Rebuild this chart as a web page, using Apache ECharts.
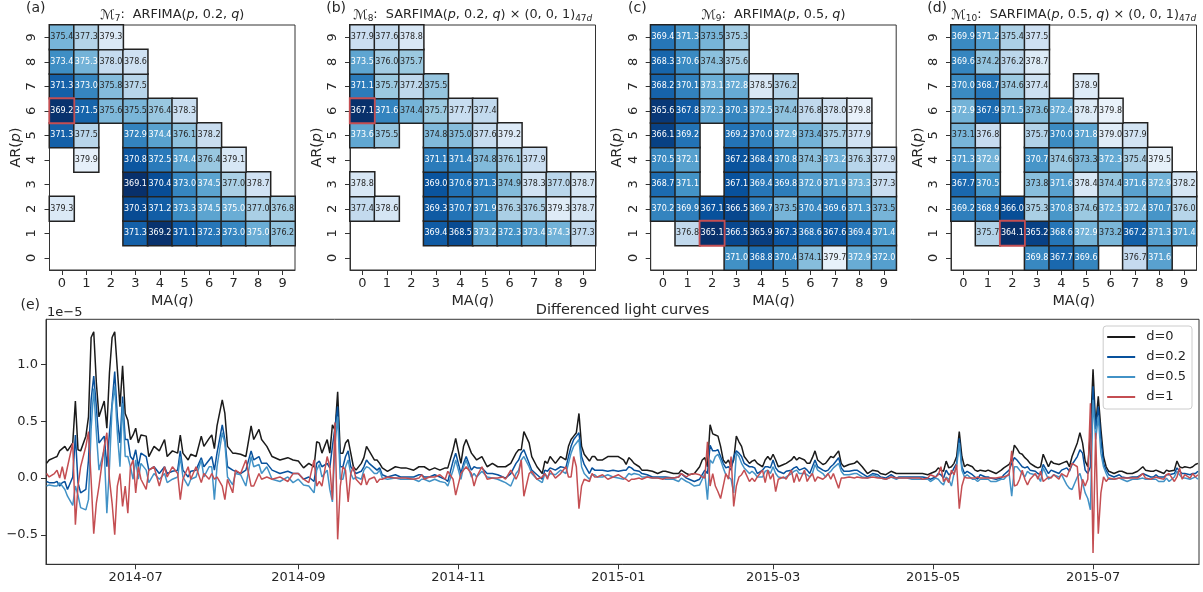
<!DOCTYPE html>
<html><head><meta charset="utf-8">
<script src="https://cdn.jsdelivr.net/npm/echarts@6.0.0/dist/echarts.min.js"></script>
<style>html,body{margin:0;padding:0;background:#fff}#c{width:1203px;height:592px}</style>
</head><body><div id="c"></div>
<script>
const FF = 'DejaVu Sans';
// ---------- heatmap data: rows = AR(p) 0..9, columns = MA(q) 0..9 ----------
const qLabels = ['0','1','2','3','4','5','6','7','8','9'];
const pLabels = ['0','1','2','3','4','5','6','7','8','9'];
const _ = null;
const m7 = [
 [_,_,_,_,_,_,_,_,_,_],
 [_,_,_,371.3,369.2,371.1,372.3,373.0,375.0,376.2],
 [379.3,_,_,370.3,371.2,373.3,374.5,375.0,377.0,376.8],
 [_,_,_,369.1,370.4,373.0,374.5,377.0,378.7,_],
 [_,379.9,_,370.8,372.5,374.4,376.4,379.1,_,_],
 [371.3,377.5,_,372.9,374.4,376.1,378.2,_,_,_],
 [369.2,371.5,375.6,375.5,376.4,378.3,_,_,_,_],
 [371.3,373.0,375.8,377.5,_,_,_,_,_,_],
 [373.4,375.3,378.0,378.6,_,_,_,_,_,_],
 [375.4,377.3,379.3,_,_,_,_,_,_,_]
];
const m8 = [
 [_,_,_,_,_,_,_,_,_,_],
 [_,_,_,369.4,368.5,373.2,372.3,373.4,374.3,377.3],
 [377.4,378.6,_,369.3,370.7,371.9,376.3,376.5,379.3,378.7],
 [378.8,_,_,369.0,370.6,371.3,374.9,378.3,377.0,378.7],
 [_,_,_,371.1,371.4,374.8,376.1,377.9,_,_],
 [373.6,375.5,_,374.8,375.0,377.6,379.2,_,_,_],
 [367.1,371.6,374.4,375.7,377.7,377.4,_,_,_,_],
 [371.1,375.7,377.2,375.5,_,_,_,_,_,_],
 [373.5,376.0,375.7,_,_,_,_,_,_,_],
 [377.9,377.6,378.8,_,_,_,_,_,_,_]
];
const m9 = [
 [_,_,_,371.0,368.8,370.4,374.1,379.7,372.9,372.0],
 [_,376.8,365.1,366.5,365.9,367.3,368.6,367.6,369.4,371.4],
 [370.2,369.9,367.1,366.5,369.7,373.5,370.4,369.6,371.3,373.5],
 [368.7,371.1,_,367.1,369.4,369.8,372.0,371.9,373.3,377.3],
 [370.5,372.1,_,367.2,368.4,370.8,374.3,373.2,376.3,377.9],
 [366.1,369.2,_,369.2,370.0,372.9,373.4,375.7,377.9,_],
 [365.6,367.8,372.3,370.3,372.5,374.4,376.8,378.0,379.8,_],
 [368.2,370.1,373.1,372.8,378.5,376.2,_,_,_,_],
 [368.3,370.6,374.3,375.6,_,_,_,_,_,_],
 [369.4,371.3,373.5,375.3,_,_,_,_,_,_]
];
const m10 = [
 [_,_,_,369.8,367.7,369.6,_,376.7,371.6,_],
 [_,375.7,364.1,365.2,368.6,372.9,373.2,367.2,371.3,371.4],
 [369.2,368.9,366.0,375.3,370.8,374.6,372.5,372.4,370.7,376.0],
 [367.7,370.5,_,373.8,371.6,378.4,374.4,371.6,372.9,378.2],
 [371.3,372.9,_,370.7,374.6,373.3,372.3,375.4,379.5,_],
 [373.1,376.8,_,375.7,370.0,371.8,379.0,377.9,_,_],
 [372.9,367.9,371.5,373.6,372.4,378.7,379.8,_,_,_],
 [370.0,368.7,374.6,377.4,_,378.9,_,_,_,_],
 [369.6,374.2,376.2,378.7,_,_,_,_,_,_],
 [369.9,371.2,375.4,377.5,_,_,_,_,_,_]
];
// selected (q, p) cell of each panel (red box)
const sel7 = [0,6], sel8 = [0,6], sel9 = [2,1], sel10 = [2,1];
const colorTop = 381;

// ---------- light curves (values in units of 1e-5), day offsets from 2014-07-01 ----------
const days = [-34,-33,-31,-30,-29,-28,-27,-26,-24,-23,
 -22,-21,-19,-18,-17,-16,-15,-14,-12,-11,
 -10,-9,-8,-7,-6,-5,-4,-3,-2,-1,
 0,1,2,4,5,7,9,11,12,14,
 16,17,18,20,21,23,25,26,28,29,
 30,31,33,34,35,37,38,40,42,44,
 45,47,48,50,52,55,58,60,62,64,
 66,68,69,70,71,73,74,75,76,77,
 78,79,80,81,82,83,84,86,87,88,
 89,91,92,93,94,96,99,101,103,106,
 108,109,110,112,114,116,118,119,121,122,
 124,125,126,128,129,130,132,134,136,138,
 140,141,143,145,146,147,148,150,151,153,
 155,156,157,158,160,162,164,165,166,167,
 168,169,170,171,173,174,175,176,178,180,
 182,184,186,187,188,189,190,192,193,195,
 197,199,201,202,205,207,208,210,211,213,
 215,216,217,218,219,220,221,222,223,224,
 225,226,227,228,229,230,231,232,234,235,
 236,237,239,240,241,242,243,244,245,247,
 248,250,251,252,253,255,256,257,258,259,
 260,262,263,264,265,266,268,269,270,272,
 274,275,277,279,281,283,284,286,288,290,
 291,294,296,299,300,302,303,305,306,307,
 308,309,310,311,312,313,314,315,316,317,
 319,320,321,322,324,325,326,328,330,331,
 333,334,335,336,337,338,339,340,341,343,
 344,345,346,348,349,350,352,353,355,356,
 357,359,360,361,362,363,364,365,366,367,
 368,369,370,371,373,375,376,378,380,382,
 384,385,387,388,389,390,392,393,394,396,
 397,398,399,400,402,403,404,405];
const d0 = [.13,.16,.18,.19,.24,.26,.28,.24,.31,.68,
 .25,.24,.37,.54,1.24,1.29,.84,.54,.68,.44,
 .93,1.24,1.29,.96,.63,.99,.57,.51,.34,.38,
 .44,.31,.38,.37,.19,.28,.24,.34,.19,.24,
 .22,.38,.22,.16,.21,.19,.37,.28,.35,.38,
 .26,.46,.69,.57,.28,.22,.22,.21,.19,.46,
 .34,.43,.34,.28,.19,.16,.18,.16,.15,.09,
 .13,.10,.32,.31,.22,.34,.22,.47,.42,.76,
 .22,.22,.31,.34,.22,.10,.07,.13,.18,.28,
 .24,.16,.16,.13,.09,.06,.10,.09,.09,.07,
 .10,.10,.10,.07,.09,.07,.09,.09,.25,.35,
 .13,.28,.34,.22,.19,.16,.19,.10,.13,.10,
 .10,.10,.13,.22,.25,.25,.41,.31,.19,.10,
 .04,.15,.13,.19,.13,.19,.16,.28,.34,.37,
 .40,.57,.28,.21,.15,.19,.19,.16,.16,.19,
 .19,.19,.16,.12,.18,.16,.13,.10,.07,.07,
 .06,.04,.06,.06,.04,.04,.07,.04,.03,.04,
 .10,.16,.18,.10,.47,.39,.38,.37,.28,.16,
 .13,.16,.10,.16,.37,.32,.28,.19,.13,.15,
 .16,.13,.10,.16,.19,.16,.21,.16,.10,.12,
 .13,.16,.19,.16,.18,.16,.13,.13,.18,.24,
 .16,.12,.13,.16,.19,.18,.24,.13,.10,.12,
 .13,.15,.10,.04,.07,.06,.04,.03,.06,.04,
 .04,.04,.04,.04,.04,.03,.04,.06,.09,.07,
 .06,.15,.09,.10,.13,.19,.41,.19,.10,.12,
 .10,.07,.06,.07,.06,.07,.06,.04,.07,.09,
 .12,.16,.29,.26,.22,.21,.18,.16,.13,.10,
 .09,.10,.21,.10,.15,.13,.12,.13,.15,.10,
 .19,.31,.40,.31,.15,.10,.40,.96,.46,.72,
 .43,.19,.10,.06,.04,.06,.06,.04,.04,.06,
 .10,.07,.06,.06,.07,.06,.04,.07,.06,.07,
 .15,.10,.09,.10,.09,.10,.12,.13];
const d02 = [-.03,-.04,-.04,-.03,-.07,-.04,-.03,-.10,.01,.38,
 -.04,-.13,-.10,.16,.69,.90,.63,.31,.37,.10,
 .40,.66,.94,.54,.31,.72,.34,.34,.19,.16,
 .25,.10,.22,.19,.07,.10,.04,.10,.04,.06,
 .07,.24,.07,.01,.06,.07,.18,.10,.16,.19,
 .07,.22,.47,.34,.10,.07,.06,.04,.07,.24,
 .16,.19,.13,.13,.07,.04,.06,.04,.04,-.01,
 .01,-.03,.13,.15,.10,.13,.09,.28,.45,.63,
 .10,.10,.19,.24,.10,.07,.04,.06,.10,.16,
 .13,.09,.07,.09,.03,.01,.03,.01,.01,.01,
 .03,.03,.01,.01,.03,.01,-.01,-.03,.15,.22,
 .04,.13,.19,.07,.10,.09,.09,.04,.04,.03,
 .01,.00,.04,.13,.16,.22,.25,.13,.07,.03,
 -.01,.07,.06,.09,.07,.10,.09,.19,.28,.34,
 .37,.40,.19,.12,.04,.09,.07,.07,.07,.06,
 .07,.06,.07,.07,.10,.09,.07,.06,.04,.03,
 .01,.01,.01,.01,.00,.01,.04,.00,-.01,-.03,
 -.01,.03,.07,.04,.29,.24,.24,.25,.19,.13,
 .09,.10,.07,.19,.24,.22,.19,.13,.10,.10,
 .09,.04,.07,.10,.10,.09,.16,.09,.06,.04,
 .06,.07,.09,.10,.07,.09,.07,.04,.10,.16,
 .10,.07,.06,.07,.10,.12,.18,.09,.06,.06,
 .07,.07,.04,.01,.04,.03,.01,.00,.03,.00,
 .01,.01,.01,.01,.01,.00,-.01,.01,.04,.03,
 .00,.07,.03,.04,.09,.13,.35,.10,.04,.06,
 .03,.01,-.01,.03,.01,.01,.00,-.01,.00,.03,
 .07,.13,.18,.16,.13,.10,.09,.10,.07,.06,
 .04,.03,.12,.04,.07,.06,.04,.07,.09,.06,
 .12,.19,.25,.22,.07,.04,.10,.81,.43,.63,
 .34,.13,.07,.03,.01,.03,.01,.00,.01,.01,
 .04,.03,.01,.01,.03,.01,.01,.03,.03,.04,
 .09,.06,.04,.04,.03,.04,.04,.06];
const d05 = [-.07,-.06,-.07,-.07,-.04,-.07,-.10,-.16,-.24,-.07,
 -.15,-.26,-.28,-.19,.43,.79,.40,.07,.25,-.31,
 .10,.63,.81,.40,.10,.66,.19,.19,.10,-.01,
 .16,-.01,.13,.07,-.04,.04,-.01,.04,-.04,-.01,
 .01,.19,.01,-.07,-.01,.01,.16,.01,.10,.10,
 -.19,.10,.40,.31,.01,-.06,.04,.03,-.07,.19,
 .10,.12,.04,.10,-.01,-.03,.01,-.04,-.01,-.06,
 -.07,-.13,.07,.12,.01,.07,-.10,-.21,.30,.54,
 -.01,-.01,.10,.16,.04,-.01,.01,-.01,.07,.10,
 .09,.04,.04,.07,.00,-.01,.00,-.01,-.01,-.01,
 -.03,-.01,-.01,-.03,-.01,-.03,-.04,-.07,.07,.16,
 -.01,.10,.16,.01,.04,.01,.06,.01,.00,-.01,
 -.03,-.04,-.07,.04,.07,.16,.19,.10,.04,-.01,
 -.04,.04,.01,.04,.03,.07,.04,.13,.22,.28,
 .31,.34,.10,.04,-.01,.03,.03,.01,.01,.03,
 .01,.00,-.01,.01,.04,.03,.04,.03,.01,.01,
 .00,.00,.00,-.01,-.01,-.03,.00,-.03,-.04,-.07,
 -.06,-.01,.04,-.19,.16,.13,.19,.21,.16,.09,
 .03,.01,-.01,-.13,.22,.19,.13,.09,.04,.06,
 .04,.01,.01,.06,.07,.04,.10,.04,.01,.00,
 .01,.04,.06,.07,.04,.04,.03,.01,.04,.12,
 .07,.04,.01,.04,.06,.09,.13,.06,.03,.03,
 .04,.04,.01,.00,.03,.01,.00,-.01,.01,-.01,
 .00,.00,-.01,-.01,-.01,-.01,-.03,.00,-.01,-.04,
 -.06,.01,-.01,-.07,.04,.10,.31,.07,.01,.03,
 -.01,-.01,-.03,-.01,-.01,-.01,-.03,-.03,-.01,-.01,
 .04,-.16,.10,.10,.07,.04,.01,.06,.04,.03,
 .01,-.03,.09,-.01,.01,.03,.01,.03,-.06,-.09,
 -.10,.01,.04,-.04,-.13,-.18,-.28,.69,.34,.54,
 .22,.10,.04,-.01,-.01,.00,-.01,-.03,-.01,-.01,
 .00,-.01,-.01,-.01,-.01,-.03,-.03,.00,-.03,.01,
 .06,.03,.00,.00,-.01,.00,.01,-.01];
const d1 = [.04,.01,.04,.07,.00,.10,-.01,.10,.31,-.41,
 -.07,.10,.28,.41,-.01,-.49,-.22,-.07,.28,.40,
 -.01,-.22,-.50,-.07,.04,-.25,-.07,-.31,.10,.16,
 -.13,.10,-.01,-.10,.07,.10,-.07,.10,.01,.10,
 .04,-.19,-.01,.10,-.01,.10,-.04,.04,-.01,.04,
 -.01,.01,-.07,-.19,-.01,-.13,.07,.04,.16,-.07,
 -.07,.04,-.01,.01,-.01,.01,-.03,.04,.04,-.01,
 -.04,.16,-.07,-.03,-.07,.19,.10,-.19,.49,-.54,
 -.07,.10,.07,-.21,.04,.10,-.01,-.06,.04,-.06,
 -.01,.01,-.04,-.01,-.01,.01,.00,.00,.00,-.01,
 .00,.03,-.01,.01,.01,.03,-.01,.06,-.01,-.15,
 .04,.07,.10,.04,-.07,.01,.10,-.01,.00,.00,
 .01,-.01,.07,-.01,.04,.16,-.16,.04,.06,-.01,
 .01,.04,-.01,.07,.00,.04,.10,.01,.01,.19,
 .10,-.27,-.07,-.01,-.03,.04,.01,.01,.03,-.01,
 .01,.03,.00,-.01,-.03,-.01,-.01,.00,-.01,.01,
 .00,.00,-.01,.00,.00,.01,.04,.01,.03,.04,
 .03,.01,.00,.32,-.07,.04,-.07,-.12,-.18,-.07,
 .04,-.01,.19,-.25,-.07,.01,.03,.07,-.03,.00,
 -.03,.01,.07,-.04,.07,-.01,.04,-.12,-.01,.01,
 -.01,.07,-.04,.04,-.03,.07,-.03,.01,.04,-.03,
 .01,-.01,.01,.04,-.01,.04,-.09,.00,.00,.01,
 .00,.01,.00,.00,.01,.00,.00,-.01,.01,.00,
 .00,.00,.00,.00,-.01,.00,.03,.01,.03,.10,
 -.03,.00,-.04,.07,.03,.12,-.27,-.07,.01,.00,
 .00,.00,.01,.00,.00,.00,.00,.00,.01,.01,
 .03,.24,-.07,-.06,-.01,.07,-.01,-.06,-.01,.04,
 -.01,.06,-.03,.01,.00,.03,-.01,.04,.01,.07,
 .13,.10,-.19,-.01,-.07,-.01,.66,-.66,.40,-.49,
 -.13,.01,-.03,.00,-.01,.00,.00,.00,.00,.00,
 .04,.00,-.01,.00,.01,.00,-.01,.03,.04,-.03,
 .01,.09,-.01,.03,.00,.04,.01,.03];
const seriesNames = ['d=0','d=0.2','d=0.5','d=1'];
const xTickDays = [0,62,123,184,243,304,365];
const xTickLabels = ['2014-07','2014-09','2014-11','2015-01','2015-03','2015-05','2015-07'];
const yTicks = [-0.5,0,0.5,1.0];
const yTickLabels = ['\u22120.5','0.0','0.5','1.0'];

// ---------- colour helpers (matplotlib Blues, reversed) ----------
const blues = ['#08306b','#08519c','#2171b5','#4292c6','#6baed6','#9ecae1','#c6dbef','#deebf7','#f7fbff'];
function hex2rgb(h){return [parseInt(h.substr(1,2),16),parseInt(h.substr(3,2),16),parseInt(h.substr(5,2),16)];}
function cmap(t){
  t = Math.min(Math.max(t,0),1); const n = blues.length-1; const x = t*n;
  const i = Math.min(Math.floor(x), n-1), f = x-i; const a = hex2rgb(blues[i]), b = hex2rgb(blues[i+1]);
  return a.map((v,k)=>v+(b[k]-v)*f);
}
function lum(rgb){
  const c = rgb.map(v=>{v/=255; return v<=0.03928? v/12.92 : Math.pow((v+0.055)/1.055,2.4);});
  return 0.2126*c[0]+0.7152*c[1]+0.0722*c[2];
}

const PW = 245.5, PH = 245, PT = 25;
const panels = [
 {m:m7, sel:sel7, left:49.5, tag:'(a)', title:'{m|\u2133}{s|7}{n|:  ARFIMA(}{i|p}{n|, 0.2, }{i|q}{n|)}'},
 {m:m8, sel:sel8, left:350, tag:'(b)', title:'{m|\u2133}{s|8}{n|:  SARFIMA(}{i|p}{n|, 0.2, }{i|q}{n|) \u00d7 (0, 0, 1)}{s|47}{si|d}'},
 {m:m9, sel:sel9, left:650.7, tag:'(c)', title:'{m|\u2133}{s|9}{n|:  ARFIMA(}{i|p}{n|, 0.5, }{i|q}{n|)}'},
 {m:m10, sel:sel10, left:951, tag:'(d)', title:'{m|\u2133}{s|10}{n|:  SARFIMA(}{i|p}{n|, 0.5, }{i|q}{n|) \u00d7 (0, 0, 1)}{s|47}{si|d}'}
];

const grid = [], xAxis = [], yAxis = [], series = [], visualMap = [], graphic = [];
const titleRich = {
  m:{fontSize:13.5, fontFamily:FF, lineHeight:17},
  s:{fontSize:9, fontFamily:FF, lineHeight:9, verticalAlign:'bottom'},
  si:{fontSize:9, fontFamily:FF, fontStyle:'italic', lineHeight:9, verticalAlign:'bottom'},
  n:{fontSize:12.8, fontFamily:FF, lineHeight:17},
  i:{fontSize:12.8, fontFamily:FF, fontStyle:'italic', lineHeight:17}
};
panels.forEach((P,k)=>{
  const vals = P.m.flat().filter(v=>v!=null);
  const lo = Math.min(...vals), hi = colorTop;
  const items = []; let last = null;
  P.m.forEach((row,p)=>row.forEach((v,q)=>{
    if(v==null) return;
    const t = (v-lo)/(hi-lo);
    const it = {value:[q,p,v], label:{color: lum(cmap(t))>0.408 ? '#262626' : '#ffffff'}};
    if(q===P.sel[0] && p===P.sel[1]){ it.itemStyle = {borderColor:'#c44e52', borderWidth:1.8}; last = it; }
    else items.push(it);
  }));
  if(last) items.push(last);
  grid.push({left:P.left, top:PT, width:PW, height:PH, show:true, borderColor:'#333', borderWidth:1, backgroundColor:'transparent'});
  xAxis.push({gridIndex:k, type:'category', data:qLabels,
    axisLine:{show:true, lineStyle:{color:'#333', width:1}},
    axisTick:{show:true, alignWithLabel:true, length:5, lineStyle:{color:'#333'}},
    axisLabel:{fontSize:13, color:'#262626', fontFamily:FF, margin:7},
    splitLine:{show:false},
    name:'MA({i|q})', nameLocation:'middle', nameGap:24,
    nameTextStyle:{fontSize:14.4, color:'#262626', fontFamily:FF, rich:{i:{fontSize:14.4, fontStyle:'italic', fontFamily:FF, color:'#262626'}}}
  });
  yAxis.push({gridIndex:k, type:'category', data:pLabels,
    axisLine:{show:true, lineStyle:{color:'#333', width:1}},
    axisTick:{show:true, alignWithLabel:true, length:5, lineStyle:{color:'#333'}},
    axisLabel:{fontSize:13, color:'#262626', fontFamily:FF, margin:11, rotate:90},
    splitLine:{show:false},
    name:'AR({i|p})', nameLocation:'middle', nameGap:26, nameRotate:90,
    nameTextStyle:{fontSize:14.4, color:'#262626', fontFamily:FF, rich:{i:{fontSize:14.4, fontStyle:'italic', fontFamily:FF, color:'#262626'}}}
  });
  series.push({type:'heatmap', xAxisIndex:k, yAxisIndex:k, data:items,
    itemStyle:{borderColor:'#222', borderWidth:1.5},
    label:{show:true, fontSize:8, fontFamily:FF, formatter:(pr)=>pr.value[2].toFixed(1)},
    emphasis:{disabled:true}, progressive:0
  });
  visualMap.push({type:'continuous', show:false, seriesIndex:k, dimension:2, min:lo, max:hi, inRange:{color:blues}});
  graphic.push({type:'text', x:P.left-4, y:8, style:{text:P.tag, align:'right', verticalAlign:'middle', fontSize:14, fontFamily:FF, fill:'#262626'}});
  graphic.push({type:'text', x:P.left+PW/2, y:15, style:{text:P.title, rich:titleRich, align:'center', verticalAlign:'middle', fontSize:12.8, fontFamily:FF, fill:'#262626'}});
});

// ---------- line chart ----------
const LG = 4;
grid.push({left:46, top:319.3, width:1153, height:245, show:true, borderColor:'#333', borderWidth:1, backgroundColor:'transparent'});
xAxis.push({gridIndex:LG, type:'value', min:-34.2, max:405.4,
  axisLine:{show:true, onZero:false, lineStyle:{color:'#333'}},
  axisTick:{show:true, length:5, customValues:xTickDays, lineStyle:{color:'#333'}},
  axisLabel:{fontSize:13, color:'#262626', fontFamily:FF, margin:7, customValues:xTickDays,
    formatter:(v)=>{const i = xTickDays.indexOf(Math.round(v)); return i>=0 ? xTickLabels[i] : '';}},
  splitLine:{show:false}
});
yAxis.push({gridIndex:LG, type:'value', min:-0.76, max:1.40,
  axisLine:{show:true, onZero:false, lineStyle:{color:'#333'}},
  axisTick:{show:true, length:5, customValues:yTicks, lineStyle:{color:'#333'}},
  axisLabel:{fontSize:13, color:'#262626', fontFamily:FF, margin:8, customValues:yTicks,
    formatter:(v)=>{const i = yTicks.findIndex(t=>Math.abs(t-v)<1e-6); return i>=0 ? yTickLabels[i] : '';}},
  splitLine:{show:false}
});
const lineColors = ['#1a1a1a','#08519c','#4292c6','#c44e52'];
[d0,d02,d05,d1].forEach((arr,k)=>{
  series.push({type:'line', name:seriesNames[k], xAxisIndex:LG, yAxisIndex:LG,
    data: days.map((d,i)=>[d, arr[i]]), showSymbol:false, symbol:'none',
    lineStyle:{width:1.5, color:lineColors[k]}, itemStyle:{color:lineColors[k]},
    emphasis:{disabled:true}, z:2+k});
});
graphic.push({type:'text', x:40, y:305, style:{text:'(e)', align:'right', verticalAlign:'middle', fontSize:14, fontFamily:FF, fill:'#262626'}});
graphic.push({type:'text', x:47, y:313, style:{text:'1e\u22125', align:'left', verticalAlign:'middle', fontSize:13, fontFamily:FF, fill:'#262626'}});
graphic.push({type:'text', x:622.5, y:310, style:{text:'Differenced light curves', align:'center', verticalAlign:'middle', fontSize:14.5, fontFamily:FF, fill:'#262626'}});

if (days.length!==d0.length||days.length!==d02.length||days.length!==d05.length||days.length!==d1.length) console.error('length mismatch', days.length, d0.length, d02.length, d05.length, d1.length);

const chart = echarts.init(document.getElementById('c'), null, {renderer:'canvas'});
chart.setOption({
  animation:false,
  backgroundColor:'#ffffff',
  textStyle:{fontFamily:FF},
  grid, xAxis, yAxis, series, visualMap, graphic,
  legend:{data:seriesNames, orient:'vertical', right:11, top:326, icon:'rect', itemWidth:28, itemHeight:2, itemGap:6,
    padding:[4,6,5,4], backgroundColor:'rgba(255,255,255,0.85)', borderColor:'#cccccc', borderWidth:1, borderRadius:3,
    textStyle:{fontSize:13, color:'#262626', fontFamily:FF, lineHeight:14, padding:[0,0,0,6]}, selectedMode:false}
});
</script></body></html>
